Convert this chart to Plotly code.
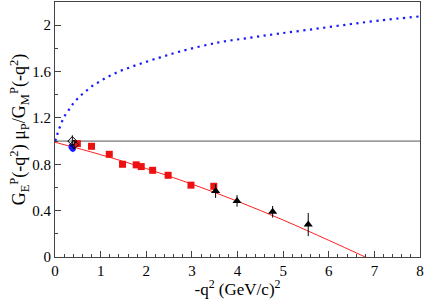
import plotly.graph_objects as go

# Red squares (data set 1)
red_x = [0.49, 0.80, 1.19, 1.48, 1.78, 1.89, 2.14, 2.48, 2.98, 3.48]
red_y = [0.978, 0.955, 0.886, 0.800, 0.795, 0.780, 0.748, 0.705, 0.620, 0.610]
red_err = [0.02, 0.02, 0.02, 0.025, 0.03, 0.03, 0.03, 0.03, 0.025, 0.03]

# Black triangles (data set 2)
tri_x = [3.52, 3.99, 4.77, 5.55]
tri_y = [0.57, 0.484, 0.39, 0.28]
tri_err = [0.06, 0.05, 0.05, 0.10]

# Black open diamonds
dia_x = [0.38, 0.42]
dia_y = [1.00, 0.97]
dia_err = [0.05, 0.04]

# Blue circles
blu_x = [0.36, 0.39]
blu_y = [0.95, 0.935]
blu_err = [0.03, 0.03]

# Red fit curve
fit_x = [0, 1, 2, 3, 4, 5, 6, 6.8]
fit_y = [0.99, 0.883, 0.763, 0.629, 0.481, 0.319, 0.144, 0.0]

# Blue dotted curve
cur_x = [0, 0.04, 0.07, 0.13, 0.18, 0.26, 0.34, 0.42, 0.52, 0.63, 0.74, 0.855, 0.98, 1.10, 1.23,
         1.36, 1.49, 1.63, 1.77, 1.90, 2.04, 2.17, 2.31, 2.73, 3.57, 4.28, 4.86, 5.55, 6.3, 7.1, 8.0]
cur_y = [1.0, 1.035, 1.09, 1.14, 1.196, 1.245, 1.29, 1.336, 1.376, 1.417, 1.451, 1.486, 1.514, 1.542, 1.568,
         1.594, 1.615, 1.634, 1.654, 1.671, 1.689, 1.706, 1.722, 1.772, 1.85, 1.892, 1.925, 1.96, 2.0, 2.04, 2.076]

x_ticks = [0, 1, 2, 3, 4, 5, 6, 7, 8]
y_ticks = [0, 0.4, 0.8, 1.2, 1.6, 2]
y_tick_labels = ["0", "0.4", "0.8", "1.2", "1.6", "2"]

fig = go.Figure()

fig.add_trace(go.Scatter(x=[0, 8], y=[1, 1], mode="lines",
                         line=dict(color="#555555", width=1), showlegend=False))
fig.add_trace(go.Scatter(x=cur_x, y=cur_y, mode="lines", line_shape="spline",
                         line=dict(color="#1a1aff", width=2.2, dash="2.2px,4.5px"),
                         showlegend=False))
fig.add_trace(go.Scatter(x=fit_x, y=fit_y, mode="lines", line_shape="spline",
                         line=dict(color="#ff2020", width=1), showlegend=False))
fig.add_trace(go.Scatter(x=red_x, y=red_y, mode="markers",
                         marker=dict(symbol="square", color="#ee1111", size=7),
                         error_y=dict(type="data", array=red_err, color="#ff9090",
                                      thickness=1.5, width=0),
                         showlegend=False))
fig.add_trace(go.Scatter(x=tri_x, y=tri_y, mode="markers",
                         marker=dict(symbol="triangle-up", color="black", size=8),
                         error_y=dict(type="data", array=tri_err, color="black",
                                      thickness=1, width=0),
                         showlegend=False))
fig.add_trace(go.Scatter(x=blu_x, y=blu_y, mode="markers",
                         marker=dict(symbol="circle", color="#1a1aff", size=6),
                         error_y=dict(type="data", array=blu_err, color="#1a1aff",
                                      thickness=1, width=0),
                         showlegend=False))
fig.add_trace(go.Scatter(x=dia_x, y=dia_y, mode="markers",
                         marker=dict(symbol="diamond-open", color="black", size=7,
                                     line=dict(width=1)),
                         error_y=dict(type="data", array=dia_err, color="black",
                                      thickness=1, width=0),
                         showlegend=False))

font = dict(family="'Liberation Serif', Tinos, 'Times New Roman', 'DejaVu Serif', serif", color="black")

fig.update_layout(
    width=425, height=299,
    margin=dict(l=55, r=5, t=2, b=42, autoexpand=False),
    paper_bgcolor="white", plot_bgcolor="white",
    font=dict(size=15, **font),
    xaxis=dict(range=[0, 8], tickvals=x_ticks, ticks="inside", ticklen=6,
               tickcolor="#444", showgrid=False, zeroline=False, automargin=False,
               showline=True, linecolor="#444", linewidth=1.2, mirror=True,
               minor=dict(dtick=0.2, ticks="inside", ticklen=3, tickcolor="#444"),
               title=dict(text="-q<sup>2</sup> (GeV/c)<sup>2</sup>", standoff=0,
                          font=dict(size=17, **font)),
               tickfont=dict(size=15, **font)),
    yaxis=dict(range=[0, 2.2], tickvals=y_ticks, ticktext=y_tick_labels,
               ticks="inside", ticklen=6, tickcolor="#444", automargin=False,
               showgrid=False, zeroline=False,
               showline=True, linecolor="#444", linewidth=1.2, mirror=True,
               minor=dict(dtick=0.2, ticks="inside", ticklen=3, tickcolor="#444"),
               title=dict(text="G<sub>E</sub><sup>P</sup>(-q<sup>2</sup>) μ<sub>P</sub>/G<sub>M</sub><sup>P</sup>(-q<sup>2</sup>)",
                          standoff=0, font=dict(size=18, **font)),
               tickfont=dict(size=15, **font)),
)

fig.write_html("out.html", config={"displayModeBar": False},
               post_script="document.body.style.margin='0';")
